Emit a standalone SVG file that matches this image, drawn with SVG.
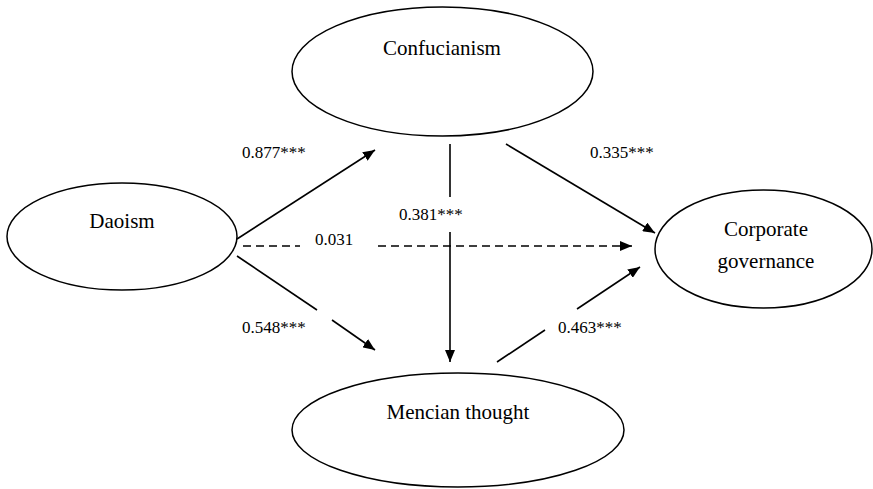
<svg xmlns="http://www.w3.org/2000/svg" width="873" height="489" viewBox="0 0 873 489">
<style>
.node{fill:#fff;stroke:#000;stroke-width:1.5}
.nt{font-family:'Liberation Serif','Tinos','DejaVu Serif',serif;font-size:21px;fill:#000;text-anchor:middle}
.lb{font-family:'Liberation Serif','Tinos','DejaVu Serif',serif;font-size:17px;fill:#000}
.edge{stroke:#000;stroke-width:1.6;fill:none}
.dash{stroke-dasharray:8 5}
</style>
<defs>
<marker id="arr" viewBox="0 0 12 10" refX="12" refY="5" markerWidth="12" markerHeight="10" markerUnits="userSpaceOnUse" orient="auto">
<path d="M0,0 L12,5 L0,10 Z" fill="#000"/>
</marker>
</defs>
<rect width="873" height="489" fill="#fff"/>
<g id="connectors">
<line class="edge" x1="237" y1="239" x2="375" y2="150" marker-end="url(#arr)"/>
<line class="edge" x1="237" y1="256" x2="317" y2="310"/>
<line class="edge" x1="332" y1="320" x2="375" y2="350" marker-end="url(#arr)"/>
<line class="edge dash" x1="243" y1="246" x2="300" y2="246"/>
<line class="edge dash" x1="378" y1="246" x2="632" y2="246" marker-end="url(#arr)"/>
<line class="edge" x1="450" y1="144" x2="450" y2="197"/>
<line class="edge" x1="450" y1="232" x2="450" y2="362" marker-end="url(#arr)"/>
<line class="edge" x1="506" y1="144" x2="655" y2="233" marker-end="url(#arr)"/>
<line class="edge" x1="497" y1="362" x2="545" y2="330"/>
<line class="edge" x1="577" y1="309" x2="640" y2="267" marker-end="url(#arr)"/>
<text class="lb" x="242" y="158">0.877***</text>
<text class="lb" x="315" y="245">0.031</text>
<text class="lb" x="399" y="220">0.381***</text>
<text class="lb" x="590" y="158">0.335***</text>
<text class="lb" x="242" y="333">0.548***</text>
<text class="lb" x="558" y="333">0.463***</text>
</g>
<g id="daoism">
<ellipse class="node" cx="122" cy="236.5" rx="115" ry="53.5"/>
<text class="nt" x="122" y="228">Daoism</text>
</g>
<g id="confucianism">
<ellipse class="node" cx="442.5" cy="71.5" rx="150.5" ry="64.5"/>
<text class="nt" x="442" y="55">Confucianism</text>
</g>
<g id="mencian">
<ellipse class="node" cx="458" cy="430" rx="166" ry="57"/>
<text class="nt" x="458" y="419">Mencian thought</text>
</g>
<g id="corporate">
<ellipse class="node" cx="763.5" cy="249" rx="108.5" ry="59"/>
<text class="nt" x="766" y="236">Corporate</text>
<text class="nt" x="766" y="268">governance</text>
</g>
</svg>
